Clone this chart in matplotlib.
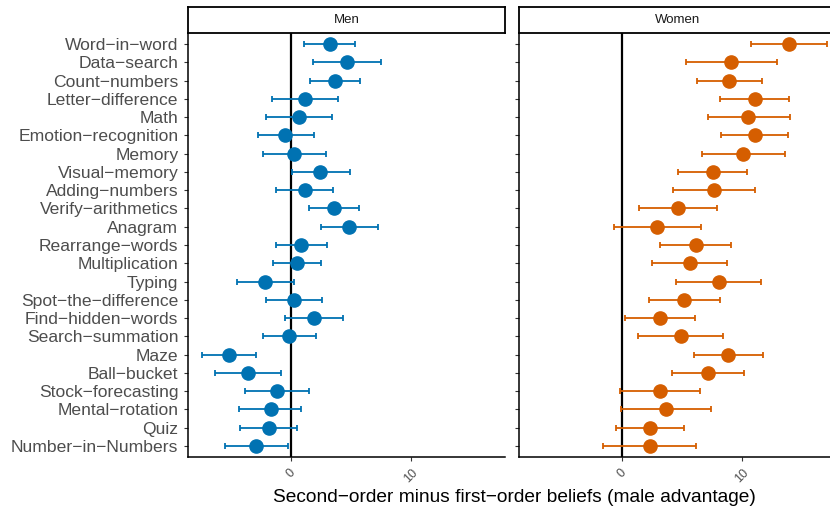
import matplotlib
matplotlib.use("Agg")
import matplotlib.pyplot as plt
from matplotlib.patches import Rectangle

plt.rcParams['font.family'] = ['Liberation Sans', 'DejaVu Sans']

tasks = ["Word−in−word", "Data−search", "Count−numbers", "Letter−difference", "Math",
         "Emotion−recognition", "Memory", "Visual−memory", "Adding−numbers",
         "Verify−arithmetics", "Anagram", "Rearrange−words", "Multiplication", "Typing",
         "Spot−the−difference", "Find−hidden−words", "Search−summation", "Maze",
         "Ball−bucket", "Stock−forecasting", "Mental−rotation", "Quiz", "Number−in−Numbers"]
tasks = tasks[:11] + tasks[11:]

men_est = [3.19, 4.64, 3.61, 1.11, 0.64, -0.50, 0.22, 2.41, 1.11, 3.53, 4.83,
           0.83, 0.50, -2.17, 0.22, 1.89, -0.17, -5.17, -3.61, -1.17, -1.72, -1.89, -2.94]
men_lo = [1.10, 1.83, 1.55, -1.64, -2.11, -2.80, -2.39, 0.03, -1.25, 1.47, 2.44,
          -1.28, -1.56, -4.56, -2.08, -0.53, -2.39, -7.42, -6.31, -3.83, -4.33, -4.25, -5.50]
men_hi = [5.30, 7.44, 5.69, 3.91, 3.36, 1.91, 2.89, 4.86, 3.47, 5.61, 7.22,
          2.97, 2.44, 0.19, 2.58, 4.28, 2.05, -2.92, -0.89, 1.47, 0.78, 0.47, -0.31]

women_est = [13.89, 9.08, 8.92, 11.03, 10.50, 11.03, 10.08, 7.53, 7.61, 4.61, 2.92,
             6.11, 5.61, 8.03, 5.14, 3.14, 4.89, 8.83, 7.14, 3.17, 3.64, 2.31, 2.28]
women_lo = [10.75, 5.28, 6.19, 8.17, 7.11, 8.25, 6.61, 4.67, 4.19, 1.36, -0.69,
            3.11, 2.50, 4.50, 2.22, 0.19, 1.33, 6.00, 4.14, -0.19, -0.14, -0.56, -1.58]
women_hi = [17.03, 12.86, 11.67, 13.92, 13.94, 13.83, 13.55, 10.42, 11.06, 7.86, 6.53,
            9.03, 8.75, 11.58, 8.11, 6.08, 8.42, 11.75, 10.17, 6.50, 7.42, 5.17, 6.11]

panels = ["Men", "Women"]
colors = ["#0072B2", "#D55E00"]
xticks = [0, 10]
xlabel = "Second−order minus first−order beliefs (male advantage)"

W, H = 830, 516
fig = plt.figure(figsize=(W / 100, H / 100), dpi=100)

panel_left_px = [188, 519]
panel_w_px = 317
top_px, bottom_px = 33, 457
strip_top_px = 7

series = [(men_est, men_lo, men_hi), (women_est, women_lo, women_hi)]
n = len(tasks)
ypos = list(range(n))

for i, (name, col, (est, lo, hi)) in enumerate(zip(panels, colors, series)):
    x0 = panel_left_px[i] / W
    ax = fig.add_axes([x0, (H - bottom_px) / H, panel_w_px / W, (bottom_px - top_px) / H])
    xerr = [[e - l for e, l in zip(est, lo)], [h - e for e, h in zip(est, hi)]]
    ax.axvline(0, color="black", lw=1.6, zorder=1)
    ax.errorbar(est, ypos, xerr=xerr, fmt="none", ecolor=col, elinewidth=1.3,
                capsize=2.2, capthick=1.3, zorder=2)
    ax.plot(est, ypos, "o", color=col, ms=9.5, mec=col, zorder=3)
    ax.set_xlim(-8.6, 17.8)
    ax.set_ylim(n - 1 + 0.6, -0.6)
    for s in ["top", "right"]:
        ax.spines[s].set_visible(False)
    for s in ["left", "bottom"]:
        ax.spines[s].set_linewidth(1.1)
        ax.spines[s].set_color("black")
    ax.set_xticks(xticks)
    ax.set_xticklabels([str(t) for t in xticks], rotation=45, ha="center", va="top",
                       fontsize=9, color="#4D4D4D")
    ax.tick_params(axis="both", length=3, width=0.8, color="#333333", pad=4)
    ax.set_yticks(ypos)
    if i == 0:
        ax.set_yticklabels(tasks, fontsize=12.6, color="#4D4D4D")
    else:
        ax.set_yticklabels([])
    # strip
    sax = fig.add_axes([x0, (H - top_px) / H, panel_w_px / W, (top_px - strip_top_px) / H])
    sax.set_xticks([])
    sax.set_yticks([])
    for s in sax.spines.values():
        s.set_linewidth(1.3)
        s.set_color("black")
    sax.set_facecolor("white")
    sax.text(0.5, 0.5, name, ha="center", va="center", fontsize=9.5, color="#1A1A1A",
             transform=sax.transAxes)

fig.text(514 / W, (H - 497) / H, xlabel, ha="center", va="center", fontsize=13.8,
         color="black")

fig.savefig("out.png", dpi=100, facecolor="white")
